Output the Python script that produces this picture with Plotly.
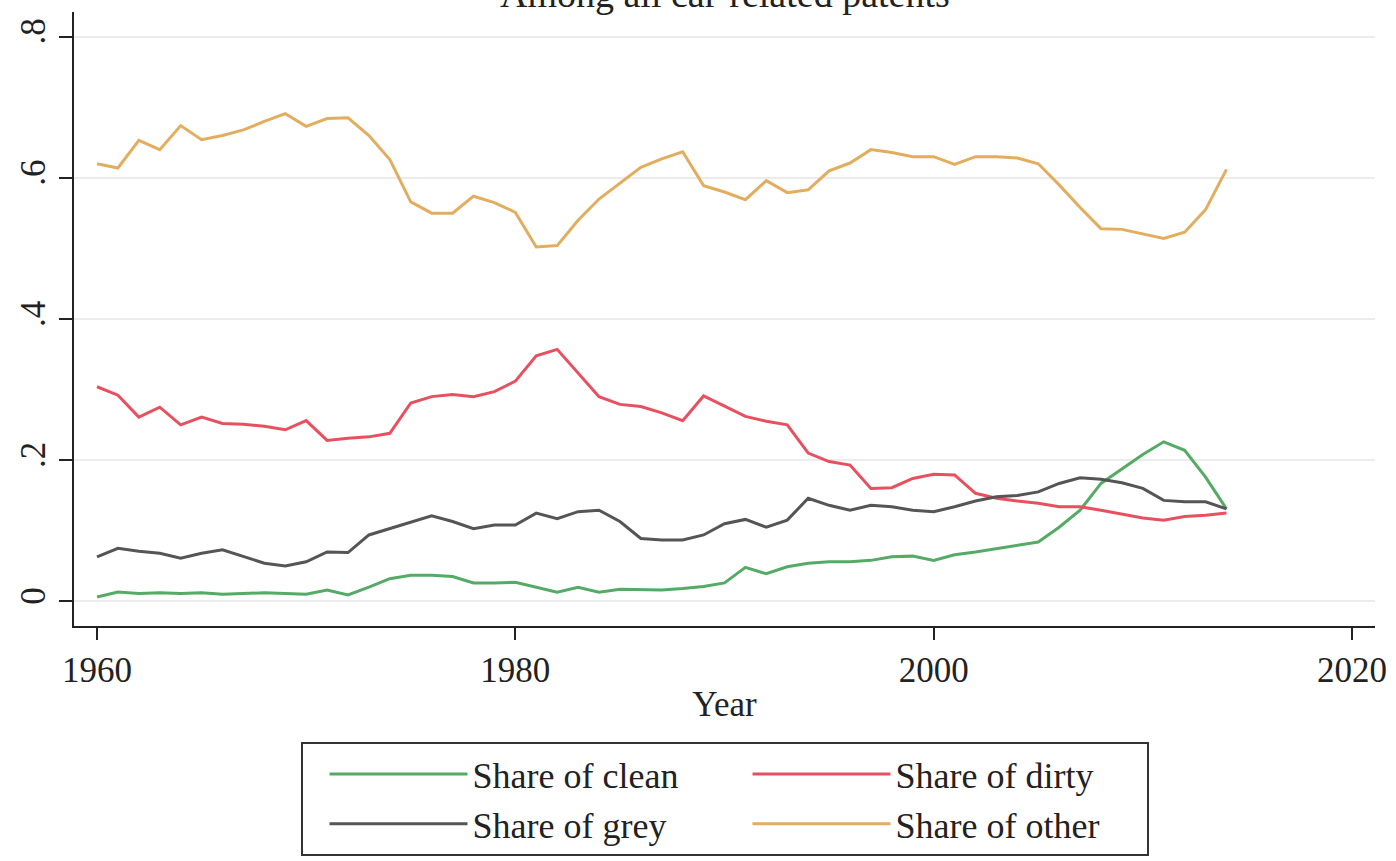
import plotly.graph_objects as go

years = list(range(1960, 2015))

clean = [0.006, 0.013, 0.011, 0.012, 0.011, 0.012, 0.010, 0.011, 0.012, 0.011,
         0.010, 0.016, 0.009, 0.020, 0.032, 0.037, 0.037, 0.035, 0.026, 0.026,
         0.027, 0.020, 0.013, 0.020, 0.013, 0.017, 0.017, 0.016, 0.018, 0.021,
         0.026, 0.048, 0.039, 0.049, 0.054, 0.056, 0.056, 0.058, 0.063, 0.064,
         0.058, 0.066, 0.070, 0.075, 0.080, 0.084, 0.105, 0.129, 0.167, 0.188,
         0.208, 0.226, 0.214, 0.176, 0.131]

dirty = [0.304, 0.292, 0.261, 0.275, 0.250, 0.261, 0.252, 0.251, 0.248, 0.243,
         0.256, 0.228, 0.231, 0.233, 0.238, 0.281, 0.290, 0.293, 0.290, 0.297,
         0.312, 0.348, 0.357, 0.324, 0.290, 0.279, 0.276, 0.267, 0.256, 0.291,
         0.277, 0.262, 0.255, 0.250, 0.210, 0.198, 0.193, 0.160, 0.161, 0.174,
         0.180, 0.179, 0.153, 0.146, 0.142, 0.139, 0.134, 0.134, 0.129, 0.124,
         0.118, 0.115, 0.120, 0.122, 0.125]

grey = [0.063, 0.075, 0.071, 0.068, 0.061, 0.068, 0.073, 0.063, 0.054, 0.050,
        0.056, 0.070, 0.069, 0.094, 0.103, 0.113, 0.121, 0.113, 0.103, 0.108,
        0.108, 0.125, 0.117, 0.127, 0.129, 0.113, 0.089, 0.087, 0.087, 0.094,
        0.110, 0.116, 0.105, 0.115, 0.146, 0.136, 0.129, 0.136, 0.134, 0.129,
        0.127, 0.134, 0.142, 0.148, 0.150, 0.155, 0.167, 0.175, 0.173, 0.168,
        0.160, 0.143, 0.141, 0.141, 0.131]

other = [0.620, 0.614, 0.653, 0.640, 0.674, 0.654, 0.660, 0.668, 0.680, 0.691,
         0.673, 0.684, 0.685, 0.660, 0.626, 0.566, 0.550, 0.550, 0.574, 0.565,
         0.551, 0.502, 0.504, 0.540, 0.570, 0.593, 0.615, 0.627, 0.637, 0.589,
         0.580, 0.569, 0.596, 0.579, 0.583, 0.610, 0.621, 0.640, 0.636, 0.630,
         0.630, 0.619, 0.630, 0.630, 0.628, 0.620, 0.590, 0.558, 0.528, 0.527,
         0.520, 0.514, 0.523, 0.555, 0.612]

series_names = ["Share of clean", "Share of dirty", "Share of grey", "Share of other"]
series_values = [clean, dirty, grey, other]
series_colors = ["#55aa66", "#e8505f", "#555555", "#e2ad5e"]
legend_columns = ["col1", "col2", "col1", "col2"]

x_ticks = [1960, 1980, 2000, 2020]
y_ticks = [0, 0.2, 0.4, 0.6, 0.8]
y_ticklabels = ["0", ".2", ".4", ".6", ".8"]

title_text = "Among all car-related patents"
x_title = "Year"

FONT = "Liberation Serif, Times New Roman, serif"
INK = "#222222"

fig = go.Figure()
for name, vals, col, grp in zip(series_names, series_values, series_colors, legend_columns):
    fig.add_trace(go.Scatter(x=years, y=vals, mode="lines", name=name,
                             legendgroup=grp,
                             line=dict(color=col, width=3)))

fig.update_layout(
    template="none",
    width=1396, height=861,
    margin=dict(l=74, r=21, t=12, b=235, pad=0, autoexpand=False),
    paper_bgcolor="white", plot_bgcolor="white",
    font=dict(family=FONT, size=35, color=INK),
    showlegend=True,
    legend=dict(
        orientation="h", x=0.5, xanchor="center", y=-0.189, yanchor="top",
        bordercolor="#333333", borderwidth=2, bgcolor="white",
        font=dict(family=FONT, size=36, color=INK),
        itemwidth=138, indentation=24,
        entrywidth=246, entrywidthmode="pixels",
        traceorder="grouped", tracegroupgap=0,
    ),
    xaxis=dict(
        range=[1958.9, 2021.1], tickvals=x_ticks, showgrid=False, zeroline=False,
        automargin=False,
        showline=True, linecolor=INK, linewidth=2,
        ticks="outside", ticklen=12, tickwidth=2, tickcolor=INK,
        title=dict(text=x_title, font=dict(family=FONT, size=35), standoff=2),
        tickfont=dict(family=FONT, size=35),
    ),
    yaxis=dict(
        range=[-0.035, 0.835], tickvals=y_ticks, ticktext=y_ticklabels,
        automargin=False,
        showgrid=True, gridcolor="#ececec", gridwidth=2, zeroline=False,
        showline=True, linecolor=INK, linewidth=2,
        ticks="outside", ticklen=13, tickwidth=2, tickcolor=INK,
        tickangle=-90, tickfont=dict(family=FONT, size=35),
    ),
    annotations=[dict(
        text=title_text, xref="paper", yref="paper", x=0.5, y=0.9915,
        xanchor="center", yanchor="bottom", showarrow=False,
        font=dict(family=FONT, size=38, color=INK),
    )],
)

fig.write_html("out.html", config={"displayModeBar": False},
               post_script="document.body.style.margin='0px';document.body.style.overflow='hidden';")
